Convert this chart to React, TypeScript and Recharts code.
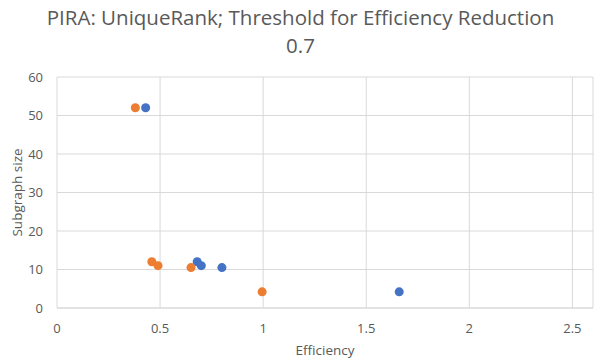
import React from 'react';
import { ScatterChart, Scatter, XAxis, YAxis, ZAxis, CartesianGrid, Label } from 'recharts';

const titleLines = ['PIRA: UniqueRank; Threshold for Efficiency Reduction', '0.7'];
const xTicks = [0, 0.5, 1, 1.5, 2, 2.5];
const yTicks = [0, 10, 20, 30, 40, 50, 60];

const blueX = [0.43, 0.68, 0.70, 0.80, 1.66];
const blueY = [52, 12, 11, 10.5, 4.2];
const orangeX = [0.38, 0.46, 0.49, 0.65, 0.995];
const orangeY = [52, 12, 11, 10.5, 4.2];

const blueData = blueX.map((x, i) => ({ x, y: blueY[i] }));
const orangeData = orangeX.map((x, i) => ({ x, y: orangeY[i] }));

const FONT = 'Open Sans, sans-serif';
const GRAY = '#595959';

export default function App() {
  return (
    <div style={{ position: 'absolute', left: 0, top: 0, width: 601, height: 361, background: '#fff' }}>
      <div style={{ position: 'absolute', left: 0, top: 3, width: 601, textAlign: 'center', fontFamily: FONT, fontSize: 20.5, color: GRAY, lineHeight: '28px' }}>
        {titleLines.map((t) => (
          <div key={t}>{t}</div>
        ))}
      </div>
      <ScatterChart width={601} height={361} margin={{ top: 77, right: 8, left: 12, bottom: 23 }}>
        <CartesianGrid stroke="#d9d9d9" strokeWidth={1} />
        <XAxis
          type="number"
          dataKey="x"
          domain={[0, 2.6]}
          ticks={xTicks}
          tickLine={false}
          axisLine={{ stroke: '#d9d9d9' }}
          tick={{ fill: GRAY, fontSize: 13, fontFamily: FONT }}
          tickMargin={10}
          height={30}
        >
          <Label value="Efficiency" position="bottom" offset={7} style={{ fill: GRAY, fontSize: 13.5, fontFamily: FONT }} />
        </XAxis>
        <YAxis
          type="number"
          dataKey="y"
          domain={[0, 60]}
          ticks={yTicks}
          tickLine={false}
          axisLine={false}
          tick={{ fill: GRAY, fontSize: 13, fontFamily: FONT }}
          tickMargin={8}
          width={45}
        >
          <Label value="Subgraph size" angle={-90} position="insideLeft" offset={5} style={{ fill: GRAY, fontSize: 13.5, fontFamily: FONT, textAnchor: 'middle' }} />
        </YAxis>
        <ZAxis range={[64, 64]} />
        <Scatter data={blueData} fill="#4472C4" isAnimationActive={false} />
        <Scatter data={orangeData} fill="#ED7D31" isAnimationActive={false} />
      </ScatterChart>
    </div>
  );
}
